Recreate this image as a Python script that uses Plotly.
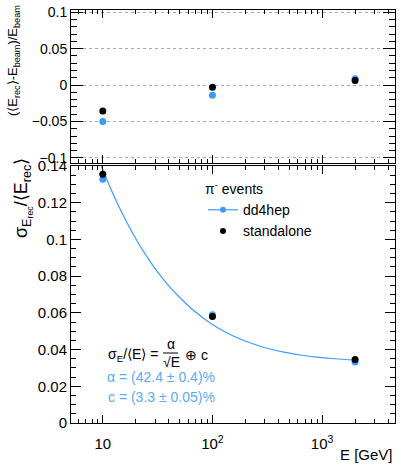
import plotly.graph_objects as go

# ---------------- data ----------------
energies = [10, 100, 2000]
bias_dd4hep = [-0.0500, -0.0140, 0.0085]
bias_standalone = [-0.0355, -0.0032, 0.0064]
res_dd4hep = [0.1328, 0.0590, 0.0332]
res_standalone = [0.1355, 0.0580, 0.0346]

fit_E = [9.7, 11, 12.5, 15, 20, 25, 30, 40, 50, 65, 80, 100, 130, 170, 230,
         320, 450, 650, 900, 1300, 2000]
fit_res = [0.1400, 0.1320, 0.1244, 0.1144, 0.1004, 0.0910, 0.0841, 0.0747,
           0.0685, 0.0621, 0.0578, 0.0537, 0.0497, 0.0463, 0.0433, 0.0406,
           0.0386, 0.0369, 0.0359, 0.0350, 0.0343]

x_major = [10, 100, 1000]
x_major_text = ["10", "10<sup>2</sup>", "10<sup>3</sup>"]
x_minor = [6, 7, 8, 9, 20, 30, 40, 50, 60, 70, 80, 90,
           200, 300, 400, 500, 600, 700, 800, 900, 2000, 3000, 4000]

BLUE = "#3d9bff"
TEXTBLUE = "#5aaaf5"
FONT = "Liberation Sans, Arial, sans-serif"

W, H = 401, 466
L, R, T, B = 71, 6, 10, 43
PW, PH = W - L - R, H - T - B


def px(x):
    return (x - L) / PW


def py(y):
    return (H - B - y) / PH


fig = go.Figure()

# top panel (bias)
fig.add_trace(go.Scatter(x=energies, y=bias_dd4hep, mode="markers",
                         marker=dict(color=BLUE, size=7), showlegend=False,
                         xaxis="x2", yaxis="y2"))
fig.add_trace(go.Scatter(x=energies, y=bias_standalone, mode="markers",
                         marker=dict(color="black", size=7), showlegend=False,
                         xaxis="x2", yaxis="y2"))

# bottom panel (resolution)
fig.add_trace(go.Scatter(x=fit_E, y=fit_res, mode="lines",
                         line=dict(color=BLUE, width=1.2, shape="spline"),
                         showlegend=False, hoverinfo="skip"))
fig.add_trace(go.Scatter(x=energies, y=res_dd4hep, mode="markers",
                         marker=dict(color=BLUE, size=7), showlegend=False))
fig.add_trace(go.Scatter(x=energies, y=res_standalone, mode="markers",
                         marker=dict(color="black", size=7), showlegend=False))

# legend entries
fig.add_trace(go.Scatter(x=[None], y=[None], mode="lines+markers", name="dd4hep",
                         line=dict(color=BLUE, width=1.2),
                         marker=dict(color=BLUE, size=6)))
fig.add_trace(go.Scatter(x=[None], y=[None], mode="markers", name="standalone",
                         marker=dict(color="black", size=6)))

xr = [0.71, 3.665]
common_x = dict(type="log", range=xr, showline=True, linecolor="black",
                linewidth=1, mirror="allticks", ticks="inside",
                tickvals=x_major, ticktext=x_major_text, ticklen=8,
                tickcolor="black", showgrid=False, zeroline=False,
                automargin=False,
                minor=dict(tickvals=x_minor, ticks="inside", ticklen=4,
                           tickcolor="black", showgrid=False))

fig.update_layout(
    width=W, height=H,
    margin=dict(l=L, r=R, t=T, b=B, autoexpand=False),
    paper_bgcolor="white", plot_bgcolor="white",
    font=dict(family=FONT, size=15, color="black"),
    xaxis=dict(common_x, domain=[0, 1], anchor="y",
               tickfont=dict(size=15), ticklabelstandoff=7),
    yaxis=dict(domain=[0, py(166)], range=[0, 0.14], anchor="x",
               showline=True, linecolor="black", linewidth=1,
               mirror="allticks", ticks="inside", ticklen=10,
               tickcolor="black", dtick=0.02, tick0=0, automargin=False,
               showgrid=False, zeroline=False, tickfont=dict(size=15),
               minor=dict(dtick=0.005, tick0=0, ticks="inside", ticklen=5,
                          tickcolor="black", showgrid=False)),
    xaxis2=dict(common_x, domain=[0, 1], anchor="y2", showticklabels=False),
    yaxis2=dict(domain=[py(163), 1], range=[-0.107, 0.103], anchor="x2",
                showline=True, linecolor="black", linewidth=1,
                mirror="allticks", ticks="inside", ticklen=12,
                tickcolor="black", tickvals=[-0.1, -0.05, 0, 0.05, 0.1],
                showgrid=True, gridcolor="#aaaaaa", griddash="dot",
                gridwidth=1, zeroline=False, tickfont=dict(size=14),
                automargin=False,
                minor=dict(dtick=0.01, tick0=0, ticks="inside", ticklen=6,
                           tickcolor="black", showgrid=False)),
    legend=dict(x=px(203), y=py(176), xanchor="left", yanchor="top",
                bgcolor="rgba(0,0,0,0)", font=dict(size=14),
                title=dict(text="π<sup>-</sup> events", font=dict(size=14)),
                itemwidth=30, tracegroupgap=0),
    showlegend=True,
)

ann = [
    dict(text="(⟨E<sub>rec</sub>⟩-E<sub>beam</sub>)/E<sub>beam</sub>",
         x=px(14), y=py(61), textangle=-90, font=dict(size=13)),
    dict(text="σ<sub>E<sub>rec</sub></sub>/⟨E<sub>rec</sub>⟩",
         x=px(23), y=py(198), textangle=-90, font=dict(size=18)),
    dict(text="σ<sub>E</sub>/⟨E⟩ =", x=px(160), y=py(355), xanchor="right",
         font=dict(size=14)),
    dict(text="α", x=px(170.5), y=py(344), font=dict(size=14)),
    dict(text="√E", x=px(171), y=py(362), font=dict(size=14)),
    dict(text="⊕ c", x=px(183), y=py(355), xanchor="left", font=dict(size=14)),
    dict(text="α = (42.4 ± 0.4)%", x=px(161), y=py(377),
         font=dict(size=14, color=TEXTBLUE)),
    dict(text="c = (3.3 ± 0.05)%", x=px(161), y=py(397),
         font=dict(size=14, color=TEXTBLUE)),
    dict(text="E [GeV]", x=px(395), y=py(455), xanchor="right",
         font=dict(size=15)),
]
for a in ann:
    a.setdefault("xanchor", "center")
    a.setdefault("yanchor", "middle")
    fig.add_annotation(xref="paper", yref="paper", showarrow=False, **a)

fig.add_shape(type="line", xref="paper", yref="paper",
              x0=px(163), x1=px(178), y0=py(353), y1=py(353),
              line=dict(color="black", width=1))

fig.write_html("out.html", config={"displayModeBar": False},
               post_script="document.body.style.margin='0px';"
                           "document.body.style.overflow='hidden';")
